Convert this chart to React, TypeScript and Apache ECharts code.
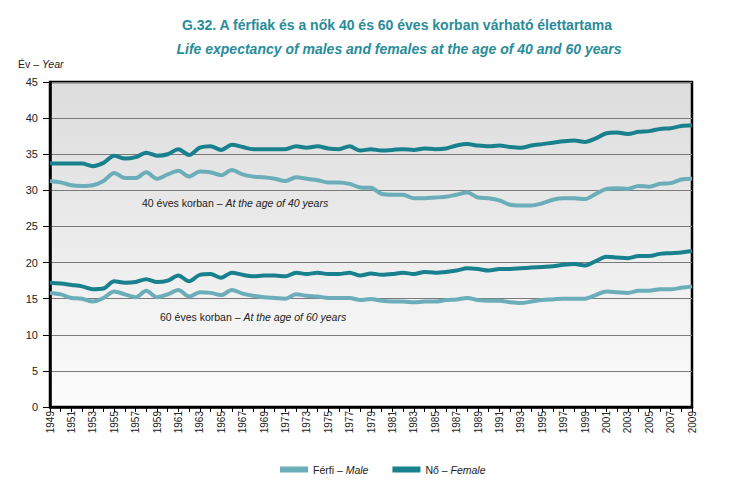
import React, { useEffect, useRef } from "react";
import * as echarts from "echarts";

const years: string[] = [];
for (let y = 1949; y <= 2009; y++) years.push(String(y));

const female40 = [
  33.75, 33.7, 33.7, 33.7, 33.35, 33.8, 34.8, 34.4, 34.6, 35.2,
  34.8, 35.0, 35.7, 34.9, 35.9, 36.1, 35.6, 36.3, 36.0, 35.7,
  35.7, 35.7, 35.7, 36.1, 35.9, 36.1, 35.8, 35.7, 36.1, 35.5,
  35.7, 35.5, 35.6, 35.7, 35.6, 35.8, 35.7, 35.8, 36.2, 36.4,
  36.2, 36.1, 36.2, 36.0, 35.9, 36.2, 36.4, 36.6, 36.8, 36.9,
  36.7, 37.2, 37.9, 38.0, 37.8, 38.1, 38.2, 38.5, 38.6, 38.9,
  39.0,
];
const male40 = [
  31.3, 31.1, 30.7, 30.6, 30.7, 31.3, 32.4, 31.7, 31.7, 32.5,
  31.6, 32.2, 32.7, 31.9, 32.6, 32.5, 32.1, 32.8, 32.2, 31.9,
  31.8, 31.6, 31.3, 31.8, 31.6, 31.4, 31.1, 31.1, 30.9, 30.4,
  30.35, 29.5, 29.4, 29.4, 28.9, 28.9, 29.0, 29.1, 29.4, 29.7,
  29.0, 28.9, 28.6, 28.0, 27.9, 27.9, 28.2, 28.7, 28.9, 28.9,
  28.8, 29.5, 30.2, 30.3, 30.2, 30.6, 30.5, 30.9, 31.0, 31.5,
  31.6,
];
const female60 = [
  17.2, 17.1, 16.9, 16.7, 16.3, 16.4, 17.4, 17.2, 17.3, 17.7,
  17.3, 17.5, 18.2, 17.4, 18.3, 18.4, 17.9, 18.6, 18.3, 18.1,
  18.2, 18.2, 18.1, 18.6, 18.4, 18.6, 18.4, 18.4, 18.6, 18.2,
  18.5, 18.3, 18.4, 18.6, 18.4, 18.7, 18.6, 18.7, 18.9, 19.2,
  19.1, 18.9, 19.1, 19.1, 19.2, 19.3, 19.4, 19.5, 19.7, 19.8,
  19.6, 20.2, 20.8, 20.7, 20.6, 20.9, 20.9, 21.2, 21.3, 21.4,
  21.6,
];
const male60 = [
  15.8, 15.6, 15.1, 15.0, 14.6, 15.1, 16.0, 15.6, 15.2, 16.1,
  15.2, 15.6, 16.2, 15.3, 15.9, 15.8, 15.5, 16.2, 15.7, 15.4,
  15.2, 15.1, 15.0, 15.6, 15.4, 15.3, 15.1, 15.1, 15.1, 14.8,
  14.95, 14.7, 14.6, 14.6, 14.5, 14.6, 14.6, 14.8, 14.9, 15.1,
  14.8, 14.7, 14.7, 14.5, 14.4, 14.6, 14.8, 14.9, 15.0, 15.0,
  15.0, 15.5, 16.0, 15.9, 15.8, 16.1, 16.1, 16.3, 16.3, 16.5,
  16.7,
];

const FONT = "'Liberation Sans', Arial, sans-serif";
const MALE_COLOR = "#6badb9";
const FEMALE_COLOR = "#19808e";
const TITLE_COLOR = "#2a8c98";

export default function App() {
  const ref = useRef<HTMLDivElement>(null);
  useEffect(() => {
    document.body.style.margin = "0";
    if (!ref.current) return;
    const chart = echarts.init(ref.current, undefined, { renderer: "svg" });
    const lineSeries = (name: string, data: number[], color: string) => ({
      type: "line",
      name,
      data,
      smooth: 0.3,
      symbol: "none",
      lineStyle: { color, width: 4 },
      itemStyle: { color },
    });
    const rich = (size: number) => ({
      n: { fontFamily: FONT, fontSize: size, fill: "#222", color: "#222" },
      i: { fontFamily: FONT, fontSize: size, fill: "#222", color: "#222", fontStyle: "italic" },
    });
    chart.setOption({
      animation: false,
      textStyle: { fontFamily: FONT },
      title: [
        {
          text: "G.32. A férfiak és a nők 40 és 60 éves korban várható élettartama",
          left: 392,
          textAlign: "center",
          top: 13,
          textStyle: { fontFamily: FONT, fontSize: 14, fontWeight: "bold", color: TITLE_COLOR },
        },
        {
          text: "Life expectancy of males and females at the age of 40 and 60 years",
          left: 394,
          textAlign: "center",
          top: 37,
          textStyle: { fontFamily: FONT, fontSize: 14, fontWeight: "bold", fontStyle: "italic", color: TITLE_COLOR },
        },
      ],
      grid: {
        left: 50,
        right: 38,
        top: 82,
        bottom: 79,
        show: true,
        borderColor: "#000",
        borderWidth: 2.5,
        backgroundColor: new echarts.graphic.LinearGradient(0, 0, 0, 1, [
          { offset: 0, color: "#dcdcdc" },
          { offset: 1, color: "#fcfcfc" },
        ]),
      },
      legend: {
        top: 459,
        left: 275,
        itemWidth: 28,
        itemHeight: 6,
        itemGap: 24,
        icon: "rect",
        data: ["male", "female"],
        formatter: (n: string) =>
          n === "male" ? "{n|Férfi – }{i|Male}" : "{n|Nő – }{i|Female}",
        textStyle: {
          fontFamily: FONT,
          fontSize: 10.5,
          color: "#222",
          rich: rich(10.5),
        },
      },
      xAxis: {
        type: "category",
        data: years,
        boundaryGap: false,
        axisLine: { lineStyle: { color: "#000", width: 2.5 } },
        axisTick: { show: true, interval: 0, length: 5, lineStyle: { color: "#000", width: 1 } },
        axisLabel: {
          interval: 1,
          rotate: 90,
          fontFamily: FONT,
          fontSize: 10,
          color: "#222",
          margin: 4,
        },
        splitLine: { show: false },
      },
      yAxis: {
        type: "value",
        min: 0,
        max: 45,
        interval: 5,
        axisLine: { show: true, lineStyle: { color: "#000", width: 2.5 } },
        axisTick: { show: true, length: 7, lineStyle: { color: "#000", width: 1 } },
        axisLabel: { fontFamily: FONT, fontSize: 11, color: "#222", margin: 12 },
        splitLine: { show: true, lineStyle: { color: "#7a7a7a", width: 1 } },
      },
      graphic: [
        {
          type: "text",
          left: 18,
          top: 58,
          style: { text: "{n|Év – }{i|Year}", rich: rich(10.5) },
        },
        {
          type: "text",
          left: 142,
          top: 197,
          style: { text: "{n|40 éves korban – }{i|At the age of 40 years}", rich: rich(10.5) },
        },
        {
          type: "text",
          left: 160,
          top: 311,
          style: { text: "{n|60 éves korban – }{i|At the age of 60 years}", rich: rich(10.5) },
        },
      ],
      series: [
        lineSeries("male", male40, MALE_COLOR),
        lineSeries("female", female40, FEMALE_COLOR),
        lineSeries("male", male60, MALE_COLOR),
        lineSeries("female", female60, FEMALE_COLOR),
      ],
    });
    return () => chart.dispose();
  }, []);
  return <div ref={ref} style={{ width: 730, height: 486 }} />;
}
